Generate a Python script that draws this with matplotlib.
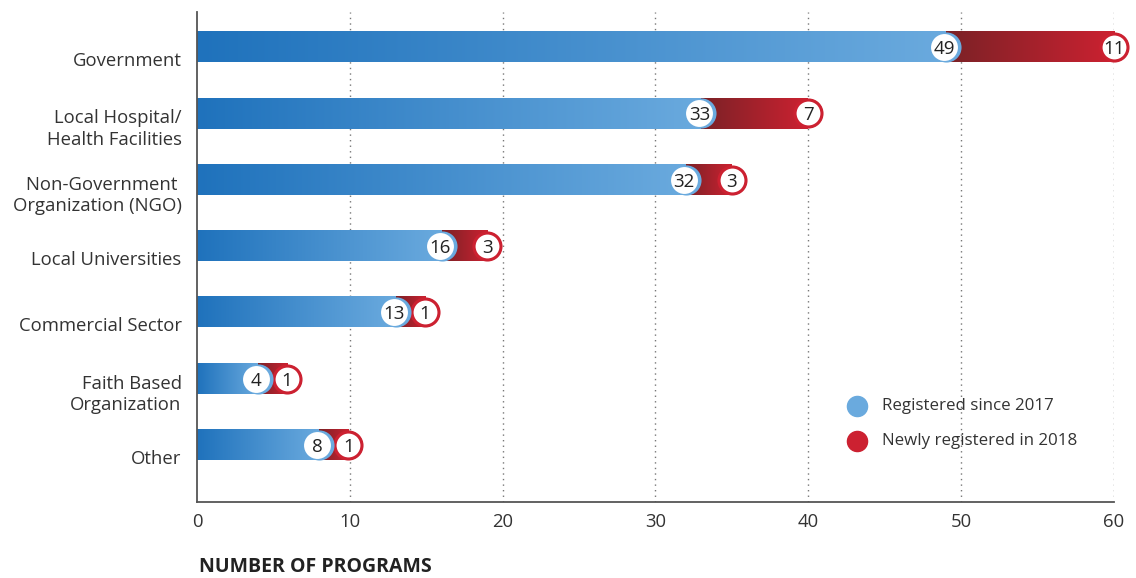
import matplotlib.pyplot as plt
import matplotlib.transforms as mtransforms
import numpy as np
from matplotlib.colors import LinearSegmentedColormap

# program counts per organisation type
categories = [
    "Government",
    "Local Hospital/\nHealth Facilities",
    "Non-Government \nOrganization (NGO)",
    "Local Universities",
    "Commercial Sector",
    "Faith Based\nOrganization",
    "Other",
]
registered_2017 = [49, 33, 32, 16, 13, 4, 8]
new_2018 = [11, 7, 3, 3, 1, 1, 1]
xticks = [0, 10, 20, 30, 40, 50, 60]

blue_dark, blue_light = "#1f72bc", "#6aaade"
red_dark, red_light = "#7a2226", "#cc2131"
text_color = "#333333"

blue_cmap = LinearSegmentedColormap.from_list("blues", [blue_dark, blue_light])
red_cmap = LinearSegmentedColormap.from_list("reds", [red_dark, red_light])
ramp = np.linspace(0, 1, 256).reshape(1, -1)

plt.rcParams["font.family"] = ["Open Sans", "DejaVu Sans"]

fig = plt.figure(figsize=(11.36, 5.78), dpi=100)
ax = fig.add_axes([0.1734, 0.1315, 0.8072, 0.8477])

bar_h = 0.455
min_gap = 1.9  # keep the two value bubbles from overlapping

for i, (cat, blue, red) in enumerate(zip(categories, registered_2017, new_2018)):
    total = blue + red
    red_x = max(total, blue + min_gap)

    ax.imshow(ramp, cmap=blue_cmap, aspect="auto", zorder=2,
              extent=[0, blue, i + bar_h / 2, i - bar_h / 2])
    ax.imshow(ramp, cmap=red_cmap, aspect="auto", zorder=2,
              extent=[blue, red_x, i + bar_h / 2, i - bar_h / 2])

    # round caps behind the bubbles
    ax.scatter([red_x], [i], s=470, color=red_light, zorder=3, clip_on=False, linewidths=0)
    ax.scatter([red_x], [i], s=360, color="white", edgecolors=red_light,
               linewidths=1.8, zorder=4, clip_on=False)
    ax.scatter([blue], [i], s=470, color=blue_light, zorder=5, clip_on=False, linewidths=0)
    ax.scatter([blue - 0.12], [i], s=375, color="white", zorder=6, clip_on=False, linewidths=0)

    ax.text(blue - 0.12, i, str(blue), ha="center", va="center_baseline", fontsize=13.5,
            color="#222222", zorder=7)
    ax.text(red_x, i, str(red), ha="center", va="center_baseline", fontsize=13.5,
            color="#222222", zorder=7)

ax.set_xlim(0, 60)
ax.set_ylim(6.86, -0.53)
ax.set_xticks(xticks)
ax.set_xticklabels([str(t) for t in xticks])
ax.set_yticks(range(len(categories)))
ax.set_yticklabels(categories, ha="right", multialignment="right", linespacing=1.25)
ax.tick_params(axis="both", length=0, labelsize=13.3, colors=text_color)
ax.tick_params(axis="x", pad=8)
ax.tick_params(axis="y", pad=11)

# category labels sit a little below their bars
shift = mtransforms.ScaledTranslation(0, -12 / 100, fig.dpi_scale_trans)
for lbl in ax.get_yticklabels():
    lbl.set_transform(lbl.get_transform() + shift)

for x in xticks[1:]:
    ax.axvline(x, color="#777777", linestyle=(0, (1, 3)), linewidth=1, zorder=1)

for side in ["top", "right"]:
    ax.spines[side].set_visible(False)
for side in ["left", "bottom"]:
    ax.spines[side].set_color("#555555")
    ax.spines[side].set_linewidth(1.3)

# legend
ax.scatter([0.72], [0.196], s=210, color=blue_light, transform=ax.transAxes, clip_on=False, zorder=8)
ax.scatter([0.72], [0.124], s=210, color=red_light, transform=ax.transAxes, clip_on=False, zorder=8)
ax.text(0.747, 0.196, "Registered since 2017", transform=ax.transAxes, va="center",
        fontsize=12.2, color=text_color)
ax.text(0.747, 0.124, "Newly registered in 2018", transform=ax.transAxes, va="center",
        fontsize=12.2, color=text_color)

fig.text(199 / 1136, 1 - 567 / 578, "NUMBER OF PROGRAMS", fontsize=14,
         fontweight="bold", color="#222222", va="center")

fig.savefig("out.png", dpi=100)
